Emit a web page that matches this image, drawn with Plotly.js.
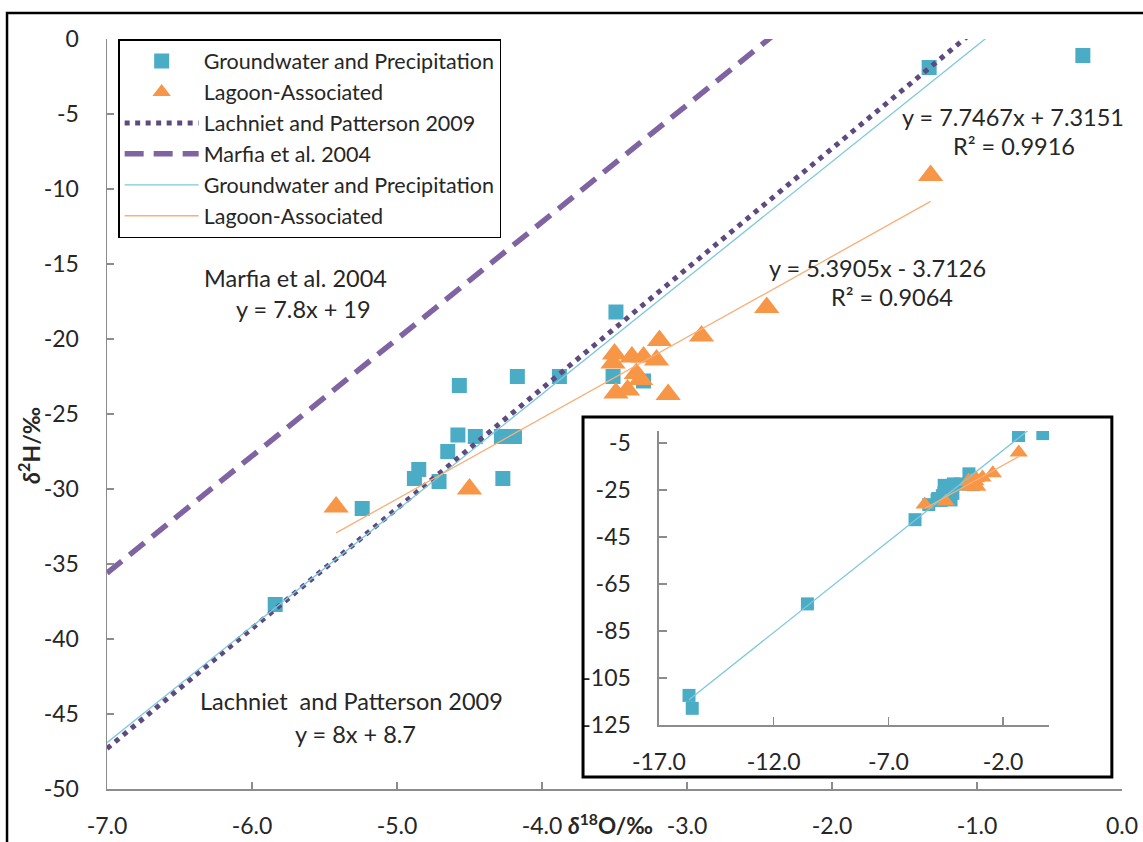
<!DOCTYPE html>
<html>
<head>
<meta charset="utf-8">
<script src="https://cdn.plot.ly/plotly-3.0.1.min.js"></script>
<style>html,body{margin:0;padding:0;background:#fff;}#chart{width:1143px;height:842px;}</style>
</head>
<body>
<div id="chart"></div>
<script>
// Groundwater and Precipitation (δ18O, δ2H)
const gwX = [-5.84, -5.24, -4.88, -4.85, -4.71, -4.65, -4.58, -4.46, -4.28, -4.19, -4.27, -4.57, -4.17, -3.88, -3.51, -3.30, -3.49, -1.33, -0.27, -10.53, -15.69, -15.55];
const gwY = [-37.7, -31.3, -29.3, -28.7, -29.5, -27.5, -26.4, -26.5, -26.5, -26.5, -29.3, -23.1, -22.5, -22.5, -22.5, -22.8, -18.2, -1.9, -1.1, -73.5, -112.4, -117.9];
// Lagoon-Associated
const lagX = [-5.42, -4.50, -3.50, -3.51, -3.38, -3.30, -3.21, -3.35, -3.32, -3.49, -3.41, -3.13, -3.19, -2.90, -2.45, -1.32];
const lagY = [-31.2, -30.0, -21.0, -21.6, -21.2, -21.2, -21.4, -22.3, -22.7, -23.6, -23.4, -23.7, -20.1, -19.8, -17.9, -9.1];
// Line equations
const gwFit = {slope: 7.7467, intercept: 7.3151, r2: 0.9916};
const lagFit = {slope: 5.3905, intercept: -3.7126, r2: 0.9064};
const lachniet = {slope: 8, intercept: 8.7};
const marfia = {slope: 7.8, intercept: 19};
const mainXTicks = [-7, -6, -5, -4, -3, -2, -1, 0];
const mainYTicks = [0, -5, -10, -15, -20, -25, -30, -35, -40, -45, -50];
const insetXTicks = [-17, -12, -7, -2];
const insetYTicks = [-5, -25, -45, -65, -85, -105, -125];

const cBlue = '#4BACC6', cOrange = '#F79646';
const cBlueLine = '#7CC8DE', cOrangeLine = '#F9AF78';
const cLach = '#5F4A7E', cMarf = '#8064A2';
const FONT = 'Lato, "Open Sans", sans-serif';
const TXT = '#262626';

function lineY(fit, xs) { return xs.map(x => fit.slope * x + fit.intercept); }
const gwTX = [Math.min(...gwX), Math.max(...gwX)];
const lagTX = [Math.min(...lagX), Math.max(...lagX)];
const fullX = [mainXTicks[0], mainXTicks[mainXTicks.length - 1]];
const fmt1 = v => v.toFixed(1);
const fmt0 = v => String(v);

const traces = [
  {x: gwX, y: gwY, mode: 'markers', type: 'scatter', name: 'Groundwater and Precipitation',
   marker: {symbol: 'square', size: 15, color: cBlue, line: {width: 0}}},
  {x: lagX, y: lagY, mode: 'markers', type: 'scatter', name: 'Lagoon-Associated',
   marker: {symbol: 'triangle-up', size: 22, color: cOrange, line: {width: 0}}},
  {x: fullX, y: lineY(lachniet, fullX), mode: 'lines', type: 'scatter', name: 'Lachniet and Patterson 2009',
   line: {color: cLach, width: 5, dash: '5px,5.5px'}},
  {x: fullX, y: lineY(marfia, fullX), mode: 'lines', type: 'scatter', name: 'Marfia et al. 2004',
   line: {color: cMarf, width: 5.5, dash: '19px,10px'}},
  {x: gwTX, y: lineY(gwFit, gwTX), mode: 'lines', type: 'scatter', name: 'Groundwater and Precipitation',
   line: {color: cBlueLine, width: 1.3}},
  {x: lagTX, y: lineY(lagFit, lagTX), mode: 'lines', type: 'scatter', name: 'Lagoon-Associated',
   line: {color: cOrangeLine, width: 1.3}},
  // inset
  {x: gwX, y: gwY, xaxis: 'x2', yaxis: 'y2', mode: 'markers', type: 'scatter', showlegend: false,
   marker: {symbol: 'square', size: 13, color: cBlue, line: {width: 0}}},
  {x: lagX, y: lagY, xaxis: 'x2', yaxis: 'y2', mode: 'markers', type: 'scatter', showlegend: false,
   marker: {symbol: 'triangle-up', size: 16, color: cOrange, line: {width: 0}}},
  {x: gwTX, y: lineY(gwFit, gwTX), xaxis: 'x2', yaxis: 'y2', mode: 'lines', type: 'scatter', showlegend: false,
   line: {color: cBlueLine, width: 1.3}},
  {x: lagTX, y: lineY(lagFit, lagTX), xaxis: 'x2', yaxis: 'y2', mode: 'lines', type: 'scatter', showlegend: false,
   line: {color: cOrangeLine, width: 1.3}}
];

const axCommon = {showgrid: false, zeroline: false, showline: true, linecolor: '#8C8C8C', linewidth: 1.5,
  ticks: 'inside', ticklen: 7, tickwidth: 1.5, tickcolor: '#8C8C8C', tickfont: {family: FONT, size: 23, color: TXT}};

function ann(text, x, y, extra) {
  return Object.assign({text: text, x: x, y: y, xref: 'x', yref: 'y', showarrow: false,
    font: {family: FONT, size: 23.5, color: TXT}, xanchor: 'center', yanchor: 'middle'}, extra || {});
}

const layout = {
  width: 1143, height: 842,
  margin: {l: 107, r: 21, t: 39, b: 53},
  paper_bgcolor: '#fff', plot_bgcolor: 'rgba(0,0,0,0)',
  font: {family: FONT, color: TXT},
  showlegend: true,
  legend: {x: 0.011, y: 1, xanchor: 'left', yanchor: 'top', bgcolor: '#fff', bordercolor: '#000', borderwidth: 1.5,
    font: {family: FONT, size: 21.5, color: TXT}, itemwidth: 74, tracegroupgap: 0},
  xaxis: Object.assign({}, axCommon, {range: [-7, 0], tickvals: mainXTicks, ticktext: mainXTicks.map(fmt1), ticklabelstandoff: 16}),
  yaxis: Object.assign({}, axCommon, {range: [-50, 0], tickvals: mainYTicks, ticktext: mainYTicks.map(fmt0), ticklabelstandoff: 22}),
  xaxis2: Object.assign({}, axCommon, {domain: [0.5438, 0.9281], anchor: 'y2', range: [-17, 0], tickvals: insetXTicks, ticktext: insetXTicks.map(fmt1), ticklen: 8, ticklabelstandoff: 16}),
  yaxis2: Object.assign({}, axCommon, {domain: [0.0853, 0.4773], anchor: 'x2', range: [-125, 0], tickvals: insetYTicks, ticktext: insetYTicks.map(fmt0), ticklen: 8, ticklabelstandoff: 22}),
  shapes: [
    {type: 'rect', xref: 'paper', yref: 'paper', x0: 0.469, x1: 0.990, y0: 0.016, y1: 0.496,
     line: {color: '#000', width: 3}, fillcolor: 'rgba(0,0,0,0)', layer: 'above'},
    {type: 'rect', xref: 'paper', yref: 'paper', x0: -0.0985, x1: 1.04, y0: -0.09, y1: 1.0347,
     line: {color: '#000', width: 2.5}, fillcolor: 'rgba(0,0,0,0)', layer: 'above'}
  ],
  annotations: [
    ann('Marfia et al. 2004', -5.703, -15.93),
    ann('y = 7.8x + 19', -5.648, -18.0),
    ann('y = 5.3905x - 3.7126', -1.683, -15.27),
    ann('R² = 0.9064', -1.586, -17.2),
    ann('y = 7.7467x + 7.3151', -0.752, -5.2),
    ann('R² = 0.9916', -0.745, -7.13),
    ann('Lachniet  and Patterson 2009', -5.317, -44.13),
    ann('y = 8x + 8.7', -5.283, -46.33),
    {text: '<b><i>δ</i><sup>2</sup>H/‰</b>', xref: 'paper', yref: 'paper', x: -0.0759, y: 0.4587, textangle: -90,
     showarrow: false, font: {family: FONT, size: 23, color: TXT}, xanchor: 'center', yanchor: 'middle'},
    {text: '<b><i>δ</i><sup>18</sup>O/‰</b>', xref: 'paper', yref: 'paper', x: 0.4965, y: -0.047,
     showarrow: false, font: {family: FONT, size: 22.5, color: TXT}, xanchor: 'center', yanchor: 'middle'}
  ]
};

Plotly.newPlot('chart', traces, layout, {displayModeBar: false, staticPlot: true});
</script>
</body>
</html>
